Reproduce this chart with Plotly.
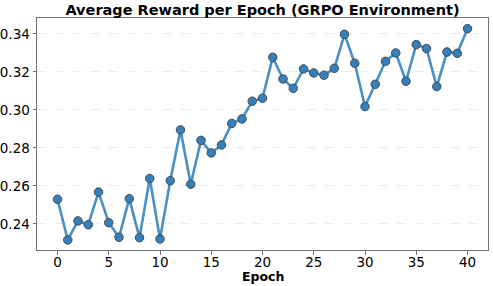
import plotly.graph_objects as go

epochs = list(range(41))
rewards = [0.2530, 0.2316, 0.2416, 0.2396, 0.2568, 0.2407, 0.2330, 0.2533, 0.2328, 0.2639,
           0.2321, 0.2628, 0.2895, 0.2609, 0.2840, 0.2774, 0.2816, 0.2929, 0.2953, 0.3046,
           0.3062, 0.3277, 0.3163, 0.3114, 0.3216, 0.3195, 0.3183, 0.3219, 0.3398, 0.3246,
           0.3018, 0.3135, 0.3256, 0.3300, 0.3151, 0.3344, 0.3323, 0.3123, 0.3305, 0.3298,
           0.3428]
x_ticks = [0, 5, 10, 15, 20, 25, 30, 35, 40]
y_ticks = [0.24, 0.26, 0.28, 0.30, 0.32, 0.34]
y_tick_labels = ["0.24", "0.26", "0.28", "0.30", "0.32", "0.34"]

fig = go.Figure()
fig.add_trace(go.Scatter(
    x=epochs, y=rewards, mode="lines+markers",
    line=dict(color="#4a90c4", width=2.6),
    marker=dict(size=8.5, color="#3480bd", line=dict(color="#4a4a4a", width=1)),
    showlegend=False,
))

axis_common = dict(
    showline=True, linecolor="#707070", linewidth=1, mirror=True,
    ticks="outside", ticklen=3.5, tickcolor="#707070", tickwidth=1,
    tickfont=dict(family="DejaVu Sans", size=13.5, color="black"),
    zeroline=False, automargin=False,
)

fig.update_layout(
    width=493, height=286,
    margin=dict(l=37, r=5, t=18, b=36),
    paper_bgcolor="white", plot_bgcolor="white",
    title=dict(text="<b>Average Reward per Epoch (GRPO Environment)</b>",
               font=dict(family="DejaVu Sans", size=14.5, color="black"),
               x=(37 + 488) / 2 / 493, xanchor="center", y=0.965, yanchor="middle"),
    xaxis=dict(range=[-2, 42], tickvals=x_ticks, showgrid=False,
               ticklabelstandoff=-4, **axis_common),
    yaxis=dict(range=[0.2263, 0.3484], tickvals=y_ticks, ticktext=y_tick_labels,
               showgrid=True, gridcolor="#ececec", gridwidth=0.7, griddash="dash",
               **axis_common),
    annotations=[dict(text="<b>Epoch</b>", xref="paper", yref="paper",
                      x=0.5, y=0, yshift=-17, xanchor="center", yanchor="top",
                      showarrow=False,
                      font=dict(family="DejaVu Sans", size=12.5, color="black"))],
)

fig.write_html("out.html", config={"displayModeBar": False},
               post_script="document.body.style.margin='0';window.dispatchEvent(new Event('resize'));")
